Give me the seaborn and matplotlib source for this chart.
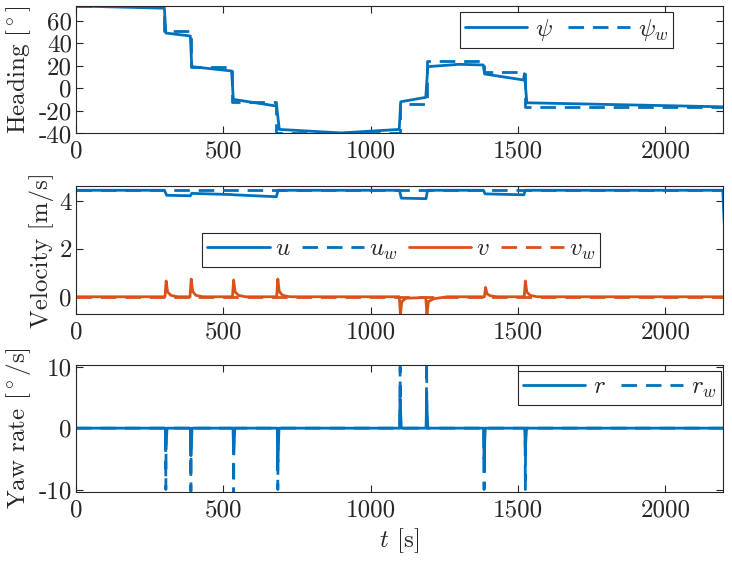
import numpy as np
import pandas as pd
import matplotlib
matplotlib.use('Agg')
import matplotlib.pyplot as plt
import seaborn as sns

# ----- heading -----
t_psi = [0, 300, 305, 388, 393, 528, 534, 681, 690, 900, 1097, 1102, 1187, 1194, 1300, 1382, 1387, 1519, 1522, 1530, 2200]
psi = [73, 71, 49, 46.4, 19.2, 15.4, -9.8, -15.7, -36.4, -39.5, -36.4, -11.9, -8.0, 19.2, 21.3, 20.7, 12.7, 7.4, 13.0, -12.8, -16.4]

t_wp = [0, 300, 390, 530, 680, 1100, 1190, 1385, 1525, 2200]
psi_w = [73, 51, 19.2, -12.2, -40, -14, 24, 14.8, -16.4, -16.4]

# ----- velocities -----
t_u = [0, 300, 308, 388, 393, 530, 536, 680, 686, 1098, 1104, 1188, 1193, 1383, 1388, 1520, 1525, 2195, 2200]
u = [4.45, 4.45, 4.24, 4.22, 4.32, 4.27, 4.26, 4.18, 4.45, 4.45, 4.12, 4.1, 4.45, 4.45, 4.3, 4.26, 4.45, 4.45, 3.05]
t_uw = [0, 2200]
u_w = [4.45, 4.45]

t_v = [0, 302, 306, 311, 322, 345, 387, 391, 396, 407, 430, 531, 535, 540, 551, 575,
       681, 685, 690, 701, 725, 1097, 1101, 1106, 1120, 1187, 1191, 1196, 1215, 1260,
       1386, 1390, 1395, 1406, 1430, 1521, 1525, 1530, 1541, 1565, 2200]
v = [0, 0, 0.66, 0.2, 0.06, 0, 0, 0.74, 0.22, 0.06, 0, 0, 0.70, 0.21, 0.06, 0,
     0, 0.74, 0.22, 0.06, 0, 0, -0.72, -0.2, -0.06, -0.03, -0.72, -0.2, -0.08, 0,
     0, 0.39, 0.12, 0.04, 0, 0, 0.66, 0.2, 0.06, 0, 0]
t_vw = [0, 2200]
v_w = [0, 0]

# ----- yaw rate -----
t_r = [0, 303, 305, 309, 388, 390, 394, 533, 535, 539, 683, 685, 689, 1098, 1100, 1104,
       1188, 1190, 1194, 1383, 1385, 1389, 1523, 1525, 1529, 2200]
r = [0, 0, -3.5, 0, 0, -4.5, 0, 0, -4.2, 0, 0, -5.5, 0, 0, 4.7, 0,
     0, 4.7, 0, 0, -5, 0, 0, -3.4, 0, 0]
t_rw = [0, 304, 305, 306, 389, 390, 391, 534, 535, 536, 684, 685, 686, 1099, 1100, 1101,
        1189, 1190, 1191, 1384, 1385, 1386, 1524, 1525, 1526, 2200]
r_w = [0, 0, -10, 0, 0, -10.3, 0, 0, -11, 0, 0, -10, 0, 0, 10, 0,
       0, 11, 0, 0, -10, 0, 0, -10, 0, 0]

blue = '#0072BD'
orange = '#D95319'
dash = (0, (5.6, 3.2))
dark = '#262626'

sns.set_theme(style='ticks')
plt.rcParams['font.family'] = ['cmr10', 'DejaVu Serif']
plt.rcParams['mathtext.fontset'] = 'cm'
plt.rcParams['axes.unicode_minus'] = False
plt.rcParams['axes.formatter.use_mathtext'] = False

fig = plt.figure(figsize=(7.32, 5.62), dpi=100)
ax1 = fig.add_axes([0.1038, 0.7625, 0.884, 0.2269])
ax2 = fig.add_axes([0.1038, 0.4413, 0.884, 0.2278])
ax3 = fig.add_axes([0.1038, 0.1246, 0.884, 0.2260])


def line(ax, t, y, color, label, ls='-', **kw):
    sns.lineplot(x=t, y=y, ax=ax, color=color, lw=2, label=label,
                 estimator=None, sort=False, linestyle=ls, **kw)


line(ax1, t_psi, psi, blue, r'$\psi$')
line(ax1, t_wp, psi_w, blue, r'$\psi_w$', ls=dash, drawstyle='steps-post')

line(ax2, t_u, u, blue, r'$u$')
line(ax2, t_uw, u_w, blue, r'$u_w$', ls=dash)
line(ax2, t_v, v, orange, r'$v$')
line(ax2, t_vw, v_w, orange, r'$v_w$', ls=dash)

line(ax3, t_r, r, blue, r'$r$')
line(ax3, t_rw, r_w, blue, r'$r_w$', ls=dash)

ax1.set_ylim(-40, 73)
ax1.set_yticks([-40, -20, 0, 20, 40, 60])
ax2.set_ylim(-0.72, 4.63)
ax2.set_yticks([0, 2, 4])
ax3.set_ylim(-10.4, 10.3)
ax3.set_yticks([-10, 0, 10])

ax1.set_ylabel(r'Heading [$^\circ$]', fontsize=18)
ax2.set_ylabel('Velocity [m/s]', fontsize=18)
ax3.set_ylabel(r'Yaw rate [$^\circ$/s]', fontsize=18)
ax3.set_xlabel(r'$t$ [s]', fontsize=18)

# legend anchor (axes fraction), columns, handle-text gap, column gap
legend_pos = {ax1: (0.593, 0.953, 2, 0.3, 0.6),
              ax2: (0.195, 0.633, 4, 0.2, 0.45),
              ax3: (0.683, 0.953, 2, 0.3, 0.6)}

for ax in (ax1, ax2, ax3):
    ax.set_xlim(0, 2196)
    ax.set_xticks([0, 500, 1000, 1500, 2000])
    if ax is not ax3:
        ax.set_xlabel('')
    ax.tick_params(direction='in', top=True, right=True, length=5, width=0.8,
                   labelsize=18, color=dark, labelcolor=dark)
    ax.tick_params(axis='y', pad=3)
    ax.tick_params(axis='x', pad=5)
    for s in ax.spines.values():
        s.set_linewidth(0.8)
        s.set_color(dark)
    x0, y0, nc, htp, cs = legend_pos[ax]
    leg = ax.legend(loc='upper left', bbox_to_anchor=(x0, y0), ncol=nc,
                    frameon=True, fancybox=False, framealpha=1, edgecolor=dark,
                    borderaxespad=0, handlelength=2.5, handletextpad=htp,
                    columnspacing=cs, borderpad=0.2, fontsize=18)
    leg.get_frame().set_linewidth(0.8)

fig.savefig('out.png', dpi=100)
